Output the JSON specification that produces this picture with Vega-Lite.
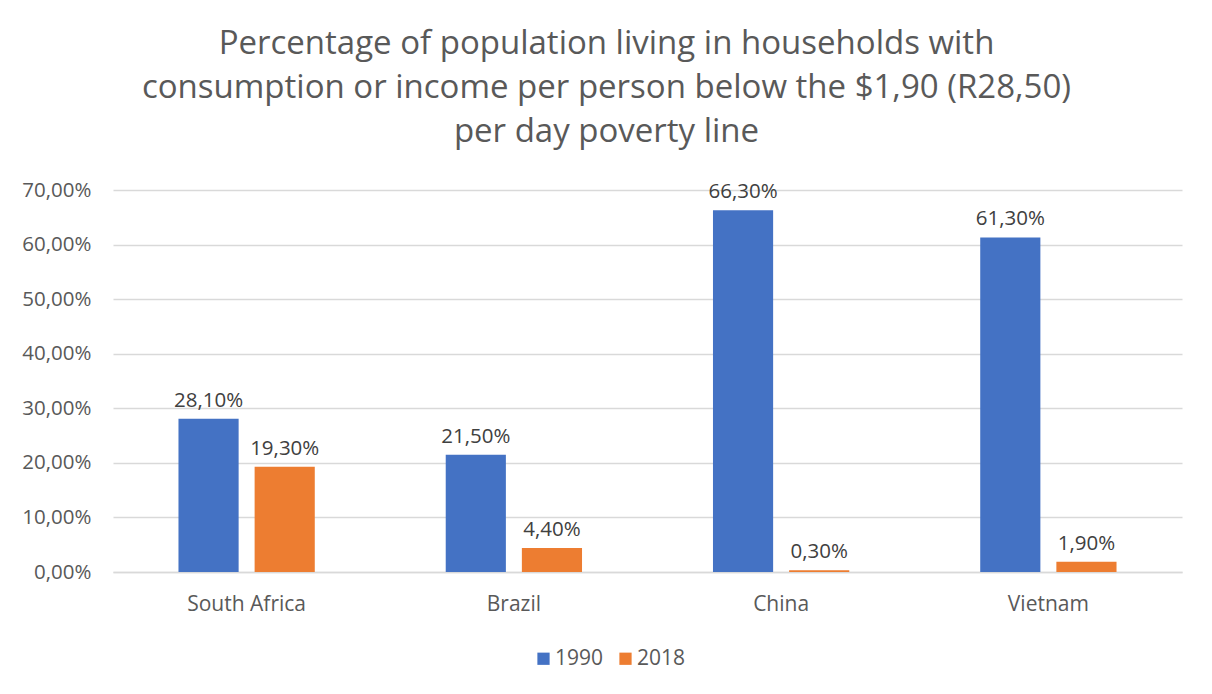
{
  "$schema": "https://vega.github.io/schema/vega-lite/v6.json",
  "width": 1069,
  "height": 382,
  "autosize": {"type": "none"},
  "padding": {"left": 113, "top": 190, "right": 30, "bottom": 122},
  "background": "white",
  "config": {
    "locale": {"number": {"decimal": ",", "thousands": ".", "grouping": [3], "currency": ["$", ""]}},
    "font": "Open Sans",
    "view": {"stroke": null}
  },
  "title": {
    "text": ["Percentage of population living in households with", "consumption or income per person below the $1,90 (R28,50)", "per day poverty line"],
    "fontSize": 33,
    "fontWeight": "normal",
    "color": "#595959",
    "lineHeight": 44,
    "anchor": "middle",
    "dx": -41,
    "offset": 31
  },
  "data": {
    "values": [
      {"country": "South Africa", "year": "1990", "value": 0.281},
      {"country": "South Africa", "year": "2018", "value": 0.193},
      {"country": "Brazil", "year": "1990", "value": 0.215},
      {"country": "Brazil", "year": "2018", "value": 0.044},
      {"country": "China", "year": "1990", "value": 0.663},
      {"country": "China", "year": "2018", "value": 0.003},
      {"country": "Vietnam", "year": "1990", "value": 0.613},
      {"country": "Vietnam", "year": "2018", "value": 0.019}
    ]
  },
  "encoding": {
    "x": {
      "field": "country",
      "type": "nominal",
      "sort": ["South Africa", "Brazil", "China", "Vietnam"],
      "scale": {"paddingInner": 0.49, "paddingOuter": 0.245},
      "axis": {
        "title": null,
        "labelAngle": 0,
        "labelFontSize": 21,
        "labelColor": "#595959",
        "labelPadding": 21,
        "ticks": false,
        "domainColor": "#d9d9d9",
        "domainWidth": 1.5
      }
    },
    "xOffset": {
      "field": "year",
      "type": "nominal",
      "scale": {"paddingInner": 0.21, "paddingOuter": 0}
    },
    "y": {
      "field": "value",
      "type": "quantitative",
      "scale": {"domain": [0, 0.7], "nice": false},
      "axis": {
        "title": null,
        "format": ".2%",
        "values": [0, 0.1, 0.2, 0.3, 0.4, 0.5, 0.6, 0.7],
        "labelFontSize": 20.5,
        "labelColor": "#595959",
        "labelPadding": 22,
        "ticks": false,
        "domain": false,
        "gridColor": "#d9d9d9",
        "gridWidth": 1.5
      }
    },
    "color": {
      "field": "year",
      "type": "nominal",
      "scale": {"domain": ["1990", "2018"], "range": ["#4472C4", "#ED7D31"]},
      "legend": {
        "title": null,
        "orient": "none",
        "direction": "horizontal",
        "legendX": 420,
        "legendY": 458,
        "symbolType": "square",
        "symbolSize": 150,
        "symbolStrokeWidth": 0,
        "labelFontSize": 21,
        "labelColor": "#595959",
        "labelOffset": 1,
        "columnPadding": 11,
        "padding": 0
      }
    }
  },
  "layer": [
    {"mark": {"type": "bar"}},
    {
      "mark": {"type": "text", "baseline": "bottom", "dy": -8, "fontSize": 20.5, "color": "#404040"},
      "encoding": {
        "text": {"field": "value", "type": "quantitative", "format": ".2%"},
        "color": {"value": "#404040"}
      }
    }
  ]
}
